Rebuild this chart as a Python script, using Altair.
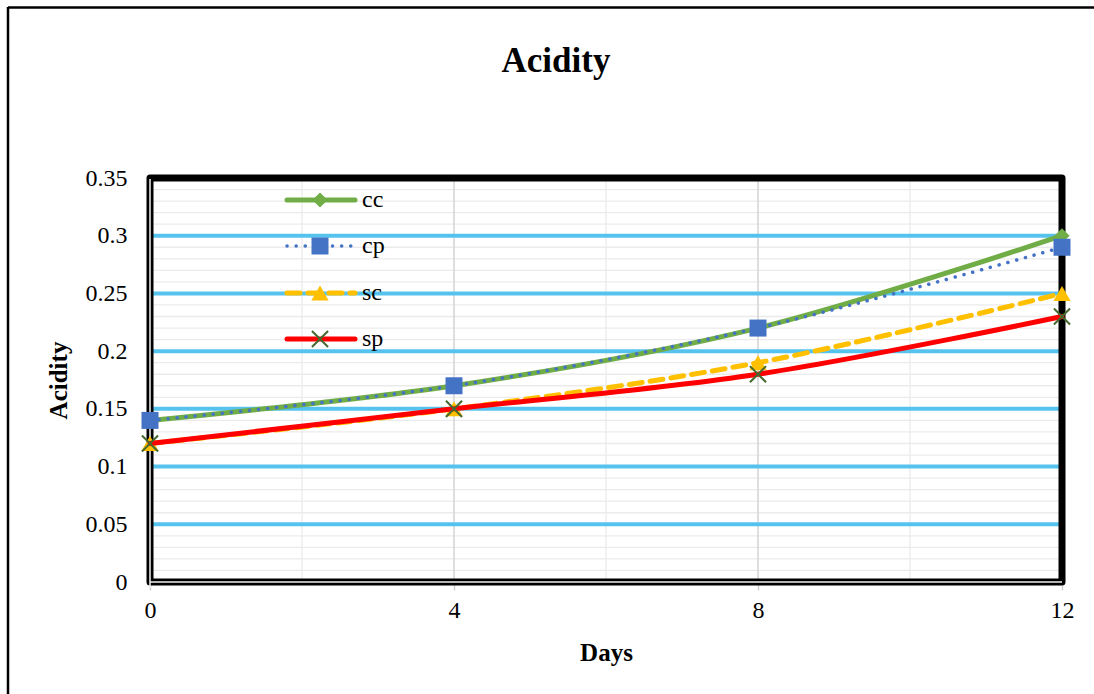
import altair as alt
import pandas as pd

days = [0, 4, 8, 12]
series_names = ["cc", "cp", "sc", "sp"]
cc = [0.14, 0.17, 0.22, 0.30]
cp = [0.14, 0.17, 0.22, 0.29]
sc = [0.12, 0.15, 0.19, 0.25]
sp = [0.12, 0.15, 0.18, 0.23]
values = {"cc": cc, "cp": cp, "sc": sc, "sp": sp}

y_major = [0.05, 0.10, 0.15, 0.20, 0.25, 0.30]
y_minor = [round(i * 0.01, 2) for i in range(1, 35) if i % 5 != 0]
x_minor = [2, 6, 10]
x_major = [4, 8]

W, H = 912, 404
FONT = "Liberation Serif"

xs = alt.Scale(domain=[0, 12], nice=False, zero=False)
ys = alt.Scale(domain=[0, 0.35], nice=False)

x_axis = alt.Axis(values=[0, 4, 8, 12], grid=False, domain=False, ticks=True, tickColor="#D0D0D0",
                  tickSize=8, tickWidth=1.5, labelFont=FONT, labelFontSize=24, labelColor="black",
                  labelPadding=8, labelFlush=False, title="Days", titleFont=FONT, titleFontSize=25,
                  titleFontWeight="bold", titleColor="black", titleX=W / 2, titleY=78,
                  titleBaseline="alphabetic", titleAnchor="middle", titleAlign="center")
y_axis = alt.Axis(values=[0, 0.05, 0.1, 0.15, 0.2, 0.25, 0.3, 0.35], grid=False, domain=False, ticks=False,
                  labelFont=FONT, labelFontSize=24, labelColor="black", labelPadding=23, labelFlush=False,
                  format="~g", title="Acidity", titleFont=FONT, titleFontSize=25, titleFontWeight="bold",
                  titleColor="black", titleX=-84, titleY=H / 2, titleAngle=-90, titleBaseline="alphabetic",
                  titleAlign="center")

def X(field):
    return alt.X(field, scale=xs, axis=x_axis)

def Y(field):
    return alt.Y(field, scale=ys, axis=y_axis)

styles = {
    "cc": dict(color="#70AD47", width=5, dash=None, shape="diamond", size=230, filled=True),
    "cp": dict(color="#4472C4", width=3.5, dash=[0.1, 9], shape="square", size=289, filled=True),
    "sc": dict(color="#FFC000", width=5, dash=[13, 8], shape="triangle-up", size=300, filled=True),
    "sp": dict(color="#FF0000", width=5, dash=None, shape="M-1,-1L1,1M-1,1L1,-1", size=260, filled=False),
}
X_COLOR = "#46692E"

layers = []

gmin = alt.Chart(pd.DataFrame({"v": y_minor})).mark_rule(color="#EBEBEB", strokeWidth=1.3).encode(y=Y("v:Q"))
gxmin = alt.Chart(pd.DataFrame({"v": x_minor})).mark_rule(color="#EBEBEB", strokeWidth=1.3).encode(x=X("v:Q"))
gxmaj = alt.Chart(pd.DataFrame({"v": x_major})).mark_rule(color="#D6D6D6", strokeWidth=1.6).encode(x=X("v:Q"))
gmaj = alt.Chart(pd.DataFrame({"v": y_major})).mark_rule(color="#55C3EE", strokeWidth=4).encode(y=Y("v:Q"))
layers += [gmin, gxmin, gxmaj, gmaj]

# plot frame (below the series)
fdf = pd.DataFrame({"f": [1]})
layers.append(alt.Chart(fdf).mark_rect(fill=None, stroke="black", strokeWidth=7, strokeJoin="round").encode(
    x=alt.value(0), x2=alt.value(W), y=alt.value(0), y2=alt.value(H)))
layers.append(alt.Chart(fdf).mark_rule(color="#F2F2F2", strokeWidth=1.5).encode(
    x=alt.value(0), y=alt.value(1), y2=alt.value(H + 6)))
layers.append(alt.Chart(fdf).mark_rule(color="#F2F2F2", strokeWidth=1.5).encode(
    x=alt.value(0), x2=alt.value(W), y=alt.value(H)))

df_all = pd.DataFrame([
    {"day": d, "val": v, "series": s}
    for s in series_names for d, v in zip(days, values[s])
])

for s in series_names:
    st = styles[s]
    d = df_all[df_all.series == s]
    line_kw = dict(color=st["color"], strokeWidth=st["width"], interpolate="catmull-rom", strokeCap="round")
    if st["dash"]:
        line_kw["strokeDash"] = st["dash"]
    ln = alt.Chart(d).mark_line(**line_kw).encode(x=X("day:Q"), y=Y("val:Q"))
    if st["filled"]:
        pt = alt.Chart(d).mark_point(shape=st["shape"], size=st["size"], filled=True, color=st["color"],
                                     opacity=1).encode(x=X("day:Q"), y=Y("val:Q"))
    else:
        pt = alt.Chart(d).mark_point(shape=st["shape"], size=st["size"], filled=False, stroke=X_COLOR,
                                     strokeWidth=2, opacity=1).encode(x=X("day:Q"), y=Y("val:Q"))
    layers += [ln, pt]

# legend
leg_y = [22, 68, 115, 161]
for i, s in enumerate(series_names):
    st = styles[s]
    ld = pd.DataFrame({"label": [s]})
    rk = dict(color=st["color"], strokeWidth=st["width"], strokeCap="round")
    if st["dash"]:
        rk["strokeDash"] = st["dash"]
    layers.append(alt.Chart(ld).mark_rule(**rk).encode(x=alt.value(137), x2=alt.value(205), y=alt.value(leg_y[i])))
    if st["filled"]:
        layers.append(alt.Chart(ld).mark_point(shape=st["shape"], size=st["size"], filled=True, color=st["color"],
                                               opacity=1).encode(x=alt.value(170), y=alt.value(leg_y[i])))
    else:
        layers.append(alt.Chart(ld).mark_point(shape=st["shape"], size=st["size"], filled=False, stroke=X_COLOR,
                                               strokeWidth=2, opacity=1).encode(x=alt.value(170), y=alt.value(leg_y[i])))
    layers.append(alt.Chart(ld).mark_text(font=FONT, fontSize=24, align="left", baseline="middle",
                                          color="black").encode(text="label:N", x=alt.value(212),
                                                                y=alt.value(leg_y[i])))

tdf = pd.DataFrame({"t": ["Acidity"]})
layers.append(alt.Chart(tdf).mark_text(font=FONT, fontSize=35, fontWeight="bold", align="center",
                                       baseline="alphabetic", color="black").encode(
    text="t:N", x=alt.value(406), y=alt.value(-106)))

bdf = pd.DataFrame({"b": [1]})
layers.append(alt.Chart(bdf).mark_rule(color="black", strokeWidth=2.5).encode(
    x=alt.value(-142), x2=alt.value(950), y=alt.value(-170.5)))
layers.append(alt.Chart(bdf).mark_rule(color="black", strokeWidth=2.5).encode(
    x=alt.value(-142), y=alt.value(-171), y2=alt.value(530)))

chart = alt.layer(*layers).properties(
    width=W, height=H,
    background="white",
    autosize=alt.AutoSizeParams(type="none"),
    padding={"left": 150, "top": 178, "right": 32, "bottom": 112},
).configure_view(stroke=None)

chart.save("out.html", embed_options={"renderer": "svg", "actions": False})
